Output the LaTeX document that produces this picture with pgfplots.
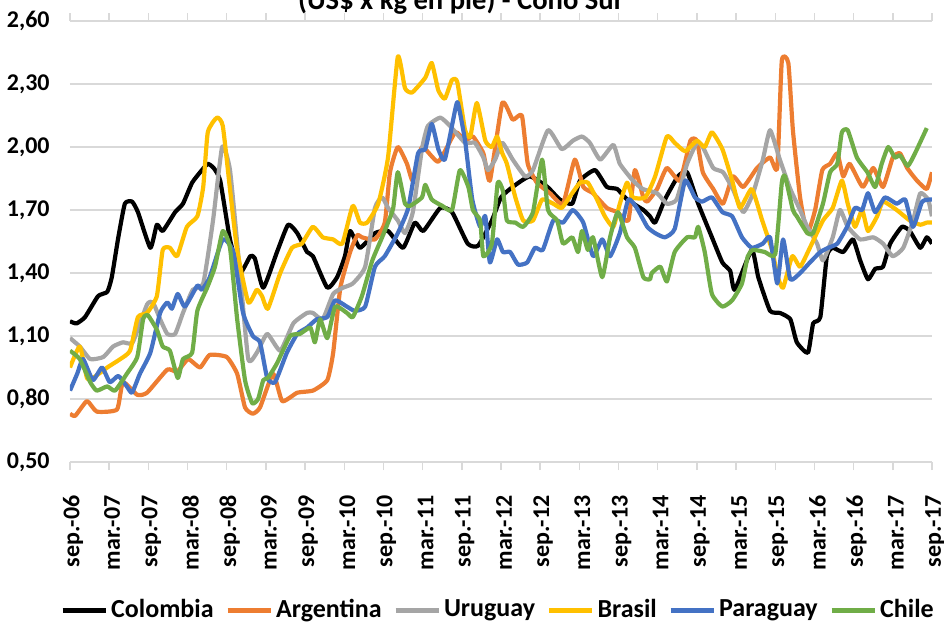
\documentclass[border=0pt]{standalone}
\usepackage{fontspec}
\setmainfont{Carlito}
\usepackage{pgfplots}
\usepackage{pgfplotstable}
\pgfplotsset{compat=1.18}
\definecolor{cCol}{HTML}{000000}
\definecolor{cArg}{HTML}{ED7D31}
\definecolor{cUru}{HTML}{A5A5A5}
\definecolor{cBra}{HTML}{FFC000}
\definecolor{cPar}{HTML}{4472C4}
\definecolor{cChi}{HTML}{70AD47}
\definecolor{cGrid}{HTML}{D9D9D9}

\pgfplotstableread{
m v
0 1.17
1.0 1.16
2.3 1.19
4.3 1.29
5.7 1.31
6.4 1.38
7.4 1.57
8.4 1.73
9.5 1.74
10.4 1.69
12.3 1.52
13.3 1.63
14.2 1.60
16.1 1.69
17.3 1.73
18.7 1.83
20.2 1.89
21.1 1.92
22.0 1.90
23.0 1.84
24.5 1.56
26.0 1.40
27.6 1.48
28.3 1.47
29.6 1.33
31.7 1.50
33.4 1.63
34.8 1.59
36.3 1.50
37.2 1.48
39.4 1.33
40.9 1.38
42.1 1.48
42.9 1.60
44.4 1.52
46.7 1.59
48.7 1.60
51.0 1.52
52.8 1.64
54.1 1.60
56.7 1.71
58.5 1.69
60.9 1.54
62.5 1.53
64.6 1.65
66.0 1.76
67.8 1.81
70.4 1.86
73.1 1.81
75.0 1.75
76.9 1.73
78.1 1.84
80.4 1.89
82.2 1.81
83.8 1.80
85.3 1.75
87.8 1.70
88.8 1.67
89.6 1.64
91.1 1.75
93.1 1.86
94.5 1.88
96.2 1.73
98.3 1.57
99.9 1.45
101.1 1.41
101.8 1.32
104.4 1.51
105.4 1.38
107.2 1.22
108.7 1.21
110.3 1.18
111.3 1.07
113.0 1.02
113.8 1.16
114.9 1.19
115.9 1.48
116.8 1.52
118.4 1.50
119.9 1.56
121.0 1.46
122.2 1.37
123.3 1.42
124.5 1.43
125.6 1.54
127.4 1.62
128.6 1.60
130.2 1.52
131.2 1.57
132 1.54
}\colombia

\pgfplotstableread{
m v
0 0.73
0.8 0.72
2.6 0.79
4.1 0.74
7.2 0.75
8.1 0.88
10.3 0.82
11.8 0.83
14.9 0.94
16.4 0.93
18.1 0.99
19.9 0.95
21.4 1.01
24.0 1.00
25.6 0.92
26.8 0.76
28.0 0.73
29.1 0.76
31.1 0.92
32.5 0.79
34.8 0.83
37.2 0.84
39.4 0.89
40.3 1.02
41.4 1.33
42.9 1.50
44.0 1.58
44.7 1.57
46.7 1.56
48.2 1.64
49.0 1.88
50.2 2.00
51.6 1.92
52.5 1.84
53.9 2.00
56.4 1.93
59.0 2.07
60.5 2.03
61.7 2.05
63.3 1.97
64.3 1.84
66.2 2.21
67.8 2.13
69.2 2.15
70.1 1.92
71.5 1.83
73.5 1.78
75.5 1.73
77.3 1.94
78.6 1.81
80.1 1.78
82.2 1.71
83.8 1.69
85.5 1.65
86.5 1.89
87.8 1.76
88.4 1.74
89.9 1.80
91.4 1.90
93.4 1.84
95.0 2.03
96.0 2.03
96.9 1.88
98.5 1.80
100.0 1.73
101.5 1.86
103.1 1.81
105.2 1.90
107.2 1.95
108.3 1.90
109.0 2.41
110.0 2.40
110.7 2.08
111.8 1.76
112.9 1.59
114.1 1.70
115.2 1.89
116.4 1.92
117.5 1.97
118.4 1.86
119.4 1.92
121.4 1.81
123.0 1.90
124.5 1.81
126.0 1.95
127.1 1.97
128.2 1.90
129.7 1.84
131.2 1.80
132 1.88
}\argentina

\pgfplotstableread{
m v
0 1.09
1.5 1.05
3.1 0.99
5.1 1.00
6.6 1.05
8.1 1.07
9.6 1.07
11.8 1.25
12.7 1.26
13.8 1.18
14.9 1.11
16.1 1.11
17.3 1.21
18.8 1.32
20.4 1.35
21.9 1.65
23.3 2.00
24.5 1.89
26.0 1.41
27.3 0.99
28.6 1.02
30.2 1.11
32.2 1.03
34.2 1.16
36.3 1.21
37.2 1.21
38.7 1.18
40.3 1.30
41.8 1.33
43.3 1.35
45.2 1.43
46.7 1.71
47.8 1.76
48.7 1.71
50.2 1.65
51.3 1.59
52.5 1.69
53.9 1.99
54.8 2.10
56.7 2.14
58.2 2.10
60.5 2.02
62.0 2.02
63.3 1.95
64.0 1.89
65.1 1.94
66.2 2.02
67.8 1.94
69.7 1.86
70.9 1.89
73.2 2.08
75.3 1.99
77.0 2.03
78.4 2.05
79.6 2.02
81.2 1.94
83.2 2.01
84.2 1.92
86.2 1.84
87.7 1.80
89.9 1.78
91.4 1.73
92.9 1.75
94.5 1.92
96.0 2.02
96.9 2.00
98.5 1.90
100.0 1.88
101.5 1.80
103.1 1.69
104.6 1.78
106.1 1.94
107.2 2.08
108.7 1.94
110.3 1.80
111.8 1.70
112.9 1.62
114.4 1.54
115.3 1.46
116.8 1.57
117.9 1.70
119.1 1.62
121.0 1.56
123.0 1.57
124.5 1.54
126.0 1.48
127.6 1.52
129.1 1.65
130.2 1.78
131.4 1.75
132 1.67
}\uruguay

\pgfplotstableread{
m v
0 0.95
1.5 1.05
2.6 0.90
3.5 0.90
5.7 0.95
7.7 0.99
9.2 1.03
10.4 1.19
11.8 1.21
13.3 1.29
14.2 1.51
15.3 1.52
16.4 1.48
17.9 1.62
19.5 1.67
20.4 1.81
21.1 2.07
22.5 2.14
23.4 2.10
24.5 1.80
25.6 1.51
27.3 1.26
28.6 1.32
29.4 1.29
30.3 1.23
32.2 1.40
34.0 1.52
35.5 1.54
37.2 1.62
38.7 1.57
40.3 1.56
41.7 1.54
43.3 1.72
44.4 1.64
45.5 1.64
47.2 1.73
48.7 1.95
50.2 2.43
51.3 2.28
52.4 2.26
54.4 2.33
55.4 2.40
56.4 2.27
57.4 2.23
58.5 2.32
59.3 2.31
60.5 2.08
61.3 2.05
62.3 2.21
63.6 2.03
64.6 2.00
65.4 2.05
66.2 1.97
66.9 1.92
68.2 1.76
69.4 1.65
70.9 1.65
72.3 1.75
74.0 1.73
75.3 1.71
76.9 1.78
78.1 1.83
79.3 1.83
80.7 1.75
81.9 1.67
83.2 1.62
84.2 1.73
85.3 1.83
86.2 1.76
88.1 1.76
89.6 1.86
91.4 2.05
92.6 2.02
94.2 1.98
96.0 2.03
97.2 2.00
98.3 2.07
99.9 1.99
101.4 1.84
102.6 1.71
104.4 1.80
106.0 1.65
107.5 1.51
108.4 1.38
109.2 1.33
110.6 1.48
111.8 1.43
113.3 1.52
115.3 1.65
116.8 1.71
118.2 1.84
119.1 1.73
120.2 1.62
121.3 1.70
122.2 1.60
123.6 1.67
124.5 1.74
126.6 1.70
128.6 1.65
130.2 1.63
131.2 1.64
132 1.64
}\brasil

\pgfplotstableread{
m v
0 0.84
1.1 0.92
2.0 0.99
3.5 0.89
4.9 0.95
6.1 0.88
7.4 0.91
8.7 0.86
9.5 0.83
10.7 0.92
12.3 1.02
13.8 1.21
14.9 1.26
15.6 1.23
16.5 1.30
17.6 1.24
19.5 1.34
20.2 1.32
21.4 1.38
23.4 1.56
25.0 1.50
26.5 1.21
28.0 1.10
29.1 1.07
30.2 0.90
31.4 0.88
33.2 1.02
34.8 1.11
36.3 1.14
37.8 1.18
39.4 1.19
40.6 1.27
42.4 1.24
43.6 1.22
45.2 1.24
46.7 1.43
48.2 1.48
50.2 1.59
51.8 1.71
53.3 1.97
54.4 1.99
55.4 2.11
56.4 1.99
57.4 1.94
59.0 2.18
59.4 2.21
60.5 2.03
61.6 1.75
62.8 1.62
63.6 1.67
64.3 1.45
65.4 1.56
66.3 1.50
67.4 1.50
68.6 1.44
70.0 1.45
71.2 1.52
72.4 1.51
74.0 1.65
75.5 1.64
77.0 1.70
78.6 1.64
80.1 1.48
81.5 1.56
82.7 1.48
84.2 1.59
85.5 1.75
86.8 1.71
88.4 1.62
89.6 1.59
91.1 1.57
92.6 1.61
94.2 1.84
95.7 1.76
96.8 1.74
98.3 1.76
99.9 1.69
101.4 1.67
102.9 1.57
104.4 1.52
106.1 1.54
107.2 1.57
108.3 1.35
109.2 1.56
110.3 1.37
111.8 1.40
113.3 1.45
114.9 1.50
116.1 1.52
117.5 1.54
119.0 1.62
120.2 1.71
121.3 1.70
122.2 1.78
123.3 1.69
124.8 1.76
126.6 1.73
127.9 1.75
129.1 1.62
130.5 1.74
132 1.75
}\paraguay

\pgfplotstableread{
m v
0 1.03
1.5 0.99
3.1 0.88
4.1 0.84
5.7 0.86
6.9 0.84
8.7 0.92
10.3 1.00
11.2 1.18
11.9 1.20
13.3 1.13
14.2 1.05
15.3 1.03
16.5 0.90
17.3 0.99
18.7 1.02
19.5 1.22
21.0 1.33
22.2 1.43
23.4 1.60
24.5 1.52
25.6 1.18
26.8 0.89
27.9 0.78
28.8 0.80
29.6 0.89
30.3 0.90
31.7 0.97
33.7 1.10
35.2 1.11
36.8 1.14
37.5 1.07
38.3 1.18
39.4 1.09
40.6 1.24
42.4 1.21
43.3 1.19
44.7 1.29
46.3 1.46
47.8 1.57
48.7 1.64
49.5 1.71
50.2 1.88
51.3 1.73
52.1 1.72
53.9 1.76
54.4 1.82
55.4 1.75
57.0 1.72
58.5 1.70
59.7 1.89
61.0 1.81
61.7 1.70
62.8 1.65
63.3 1.48
64.6 1.54
65.5 1.83
66.3 1.79
66.9 1.65
68.2 1.64
69.4 1.62
70.9 1.69
72.3 1.94
73.2 1.70
74.6 1.65
75.5 1.54
76.9 1.57
77.8 1.50
78.4 1.60
79.3 1.51
80.1 1.57
81.5 1.38
82.7 1.57
83.9 1.69
85.3 1.57
86.5 1.52
87.8 1.38
88.8 1.37
89.1 1.40
90.4 1.43
91.4 1.36
92.6 1.50
94.5 1.57
95.7 1.57
96.2 1.62
97.2 1.50
98.3 1.30
99.9 1.24
101.4 1.27
102.9 1.35
103.8 1.48
104.6 1.51
106.4 1.50
108.0 1.49
109.0 1.83
109.5 1.86
110.7 1.70
111.3 1.67
112.9 1.59
113.8 1.59
115.3 1.73
116.4 1.88
117.5 1.92
118.2 2.07
119.1 2.08
120.5 1.95
122.1 1.88
123.3 1.81
124.3 1.92
125.3 2.00
126.3 1.95
127.1 1.96
128.3 1.91
129.4 1.97
131.2 2.09
}\chile

\begin{document}
\begin{tikzpicture}
\begin{axis}[
  at={(0,0)}, anchor=south west,
  scale only axis, width=431pt, height=220.5pt,
  xmin=0, xmax=132, ymin=0.5, ymax=2.6,
  axis line style={draw=none},
  ytick={0.5,0.8,1.1,1.4,1.7,2.0,2.3,2.6},
  xtick={0,6,...,132},
  xticklabels={sep.-06,mar.-07,sep.-07,mar.-08,sep.-08,mar.-09,sep.-09,mar.-10,sep.-10,mar.-11,sep.-11,mar.-12,sep.-12,mar.-13,sep.-13,mar.-14,sep.-14,mar.-15,sep.-15,mar.-16,sep.-16,mar.-17,sep.-17},
  /pgf/number format/assume math mode=true,
  /pgf/number format/fixed,
  /pgf/number format/fixed zerofill,
  /pgf/number format/precision=2,
  /pgf/number format/use comma,
  ticklabel style={font=\fontsize{12}{14}\selectfont\bfseries},
  yticklabel style={anchor=east, inner sep=0pt, xshift=-6pt},
  xticklabel style={rotate=90, anchor=east, inner sep=0pt, xshift=-12.5pt, yshift=-1.5pt},
  ymajorgrids, grid style={cGrid, line width=0.75pt},
  tick align=outside, major tick length=4pt,
  ytick style={draw=none},
  xtick style={cGrid, line width=0.75pt},
  every axis plot/.append style={line width=2.1pt, smooth, tension=0.3, line join=round, no markers},
  legend columns=6,
  legend style={at={(0.5,0)}, anchor=center, yshift=-74pt, xshift=-1.25pt, draw=none, fill=none,
    font=\fontsize{13}{15}\selectfont\bfseries, inner sep=0pt,
    nodes={inner xsep=1.5pt, inner ysep=0pt},
    /tikz/every even column/.append style={column sep=4.2pt}},
  legend image code/.code={\draw[#1, line width=2.5pt, sharp plot] (0pt,0pt) -- (21.5pt,0pt);},
]
\addplot[cCol] table[x=m,y=v]{\colombia};
\addlegendentry{Colombia}
\addplot[cArg] table[x=m,y=v]{\argentina};
\addlegendentry{Argentina}
\addplot[cUru] table[x=m,y=v]{\uruguay};
\addlegendentry{Uruguay}
\addplot[cBra] table[x=m,y=v]{\brasil};
\addlegendentry{Brasil}
\addplot[cPar] table[x=m,y=v]{\paraguay};
\addlegendentry{Paraguay}
\addplot[cChi] table[x=m,y=v]{\chile};
\addlegendentry{Chile}
\end{axis}
\node[anchor=base, font=\fontsize{14.3}{17}\selectfont\bfseries, inner sep=0pt] at (195.5pt,226pt) {(US\$ x kg en pie) - Cono Sur};
\pgfresetboundingbox
\path (-35pt,-80pt) rectangle (437pt,231pt);
\end{tikzpicture}
\end{document}
